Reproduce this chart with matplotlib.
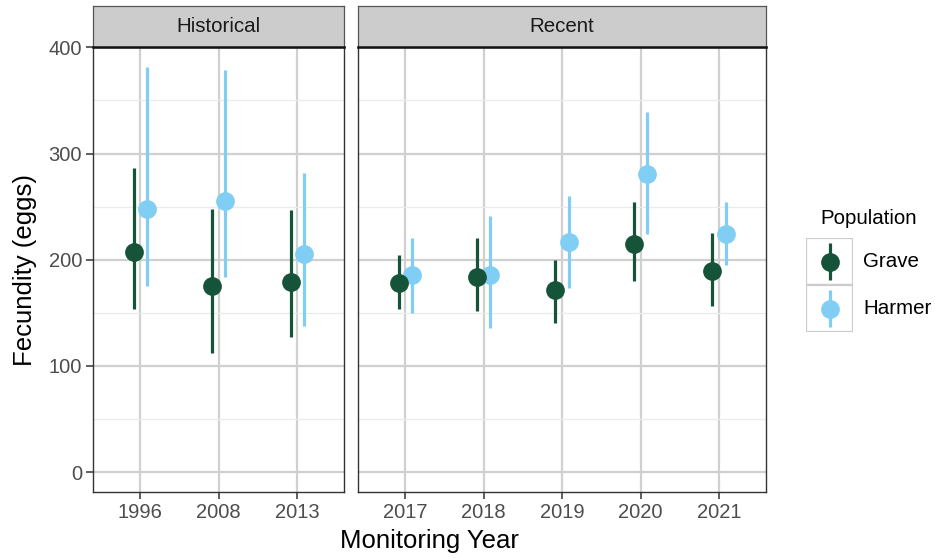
import matplotlib
matplotlib.use("Agg")
import matplotlib.pyplot as plt
from matplotlib.patches import Rectangle

plt.rcParams["font.family"] = ["Liberation Sans", "DejaVu Sans"]

# ── data: fecundity estimates with intervals ────────────────────────────────
hist_years = ["1996", "2008", "2013"]
recent_years = ["2017", "2018", "2019", "2020", "2021"]

grave_hist = [207.5, 175.5, 179]
grave_hist_lo = [154, 112, 127]
grave_hist_hi = [286.5, 248, 246.5]
harmer_hist = [248, 255, 205.5]
harmer_hist_lo = [175, 184, 138]
harmer_hist_hi = [381, 378.5, 282]

grave_recent = [178, 183.5, 171, 214.5, 189]
grave_recent_lo = [153.5, 152, 140, 180, 156]
grave_recent_hi = [204.5, 220, 199.5, 254, 225.5]
harmer_recent = [186, 186, 216.5, 281, 224.5]
harmer_recent_lo = [150, 136, 173, 224.5, 195]
harmer_recent_hi = [220, 241.5, 260, 339, 254.5]

GRAVE = "#16543a"
HARMER = "#80cef3"
DODGE = 0.085

W, H = 935, 559
fig = plt.figure(figsize=(W / 100, H / 100), dpi=100)


def px_axes(x0, y0, x1, y1, **kw):
    return fig.add_axes([x0 / W, 1 - y1 / H, (x1 - x0) / W, (y1 - y0) / H], **kw)


def panel(x0, x1, years, g, glo, ghi, h, hlo, hhi, title, show_y):
    ax = px_axes(x0, 47, x1, 491.7)
    n = len(years)
    ax.set_xlim(-0.6, n - 0.4)
    ax.set_ylim(-18.5, 400.3)
    ax.set_yticks([0, 100, 200, 300, 400])
    ax.set_yticks([50, 150, 250, 350], minor=True)
    ax.set_xticks(range(n))
    ax.set_xticklabels(years)
    ax.grid(which="major", color="#d0d0d0", linewidth=1.6, zorder=0)
    ax.grid(which="minor", axis="y", color="#ebebeb", linewidth=0.9, zorder=0)
    ax.set_axisbelow(True)
    for s in ax.spines.values():
        s.set_color("#333333")
        s.set_linewidth(1.0)
    ax.tick_params(which="major", length=5, width=1.1, color="#333333",
                   labelsize=14.5, labelcolor="#4d4d4d", pad=3)
    ax.tick_params(which="minor", length=0)
    if not show_y:
        ax.tick_params(axis="y", left=False, labelleft=False)

    xs = list(range(n))
    for vals, lo, hi, col, off, z in [(h, hlo, hhi, HARMER, DODGE, 3),
                                       (g, glo, ghi, GRAVE, -DODGE, 4)]:
        xx = [x + off for x in xs]
        ax.vlines(xx, lo, hi, color=col, linewidth=2.3, zorder=z)
        ax.plot(xx, vals, "o", color=col, markersize=13.5, markeredgewidth=0,
                zorder=z)

    # facet strip
    st = px_axes(x0, 6, x1, 47)
    st.set_xticks([]); st.set_yticks([])
    st.set_facecolor("#cccccc")
    for s in st.spines.values():
        s.set_color("#555555")
        s.set_linewidth(0.9)
    st.spines["bottom"].set_color("#111111")
    st.spines["bottom"].set_linewidth(1.8)
    st.text(0.5, 0.5, title, ha="center", va="center", fontsize=14.8,
            color="#1a1a1a", transform=st.transAxes)
    return ax


panel(93.3, 344.3, hist_years, grave_hist, grave_hist_lo, grave_hist_hi,
      harmer_hist, harmer_hist_lo, harmer_hist_hi, "Historical", True)
panel(358.3, 766, recent_years, grave_recent, grave_recent_lo, grave_recent_hi,
      harmer_recent, harmer_recent_lo, harmer_recent_hi, "Recent", False)

fig.text(25 / W, 1 - 269.5 / H, "Fecundity (eggs)", rotation=90,
         ha="center", va="center", fontsize=18.5)
fig.text(429.6 / W, 1 - 541 / H, "Monitoring Year", ha="center",
         va="center", fontsize=18.5)

# ── legend ──────────────────────────────────────────────────────────────────
lg = px_axes(806, 238, 853, 332)
lg.set_xlim(0, 1); lg.set_ylim(0, 2)
lg.axis("off")
for i, (col, lab) in enumerate([(GRAVE, "Grave"), (HARMER, "Harmer")]):
    yb = 1 - i
    lg.add_patch(Rectangle((0, yb), 1, 1, facecolor="white",
                           edgecolor="#cccccc", linewidth=1.6))
    lg.vlines(0.5, yb + 0.1, yb + 0.9, color=col, linewidth=2.3)
    lg.plot(0.5, yb + 0.5, "o", color=col, markersize=13.5, markeredgewidth=0)
    fig.text(863 / W, 1 - (238 + 23.5 + 47 * i) / H, lab, ha="left",
             va="center", fontsize=14.8)
fig.text(820 / W, 1 - 219 / H, "Population", ha="left", va="center",
         fontsize=14.8)

fig.savefig("out.png", dpi=100)
